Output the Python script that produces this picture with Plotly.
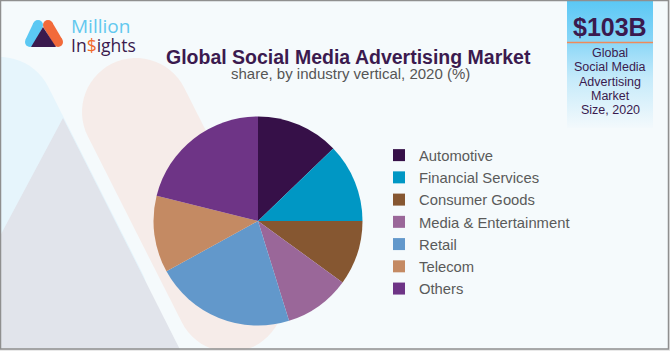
import math
import plotly.graph_objects as go

# ---- data ----
categories = ["Automotive", "Financial Services", "Consumer Goods",
              "Media & Entertainment", "Retail", "Telecom", "Others"]
shares = [12.8, 12.2, 10.0, 10.2, 21.8, 11.9, 21.1]
colors = ["#361048", "#0097c4", "#865731", "#9a6799", "#6298cb", "#c48a63", "#6e3486"]

title_text = "Global Social Media Advertising Market"
subtitle_text = "share, by industry vertical, 2020 (%)"
market_size = "$103B"
box_lines = ["Global", "Social Media", "Advertising", "Market", "Size, 2020"]

W, H = 670, 351
FONT = "Liberation Sans, Arial, sans-serif"


def pill_path(c1, c2, r, n=30):
    dx, dy = c2[0] - c1[0], c2[1] - c1[1]
    L = math.hypot(dx, dy)
    dx, dy = dx / L, dy / L
    nx, ny = dy, -dx
    a0 = math.atan2(ny, nx)
    pts = []
    for i in range(n + 1):
        a = a0 - math.pi * i / n
        pts.append((c1[0] + r * math.cos(a), c1[1] + r * math.sin(a)))
    for i in range(n + 1):
        a = a0 - math.pi - math.pi * i / n
        pts.append((c2[0] + r * math.cos(a), c2[1] + r * math.sin(a)))
    return "M " + " L ".join(f"{x:.2f},{y:.2f}" for x, y in pts) + " Z"


fig = go.Figure()

# gradient box on the right
fig.add_trace(go.Scatter(
    x=[567, 653, 653, 567, 567], y=[1, 1, 128, 128, 1],
    fill="toself", mode="lines", line=dict(width=0), hoverinfo="skip",
    showlegend=False,
    fillgradient=dict(type="vertical", start=1, stop=128,
                      colorscale=[[0, "#5bc8f5"], [0.3, "#86d5f7"], [0.6, "#c4eafa"],
                                  [1, "#f3f9fc"]]),
))

# pie
fig.add_trace(go.Pie(
    labels=categories, values=shares, sort=False, direction="clockwise",
    rotation=0, textinfo="none", hoverinfo="label+percent",
    marker=dict(colors=colors, line=dict(width=0)),
    domain=dict(x=[153.5 / W, 362.5 / W], y=[25.5 / H, 234.5 / H]),
))

shapes = []
# background decorations
shapes.append(dict(type="path", path=pill_path((0, 111), (94, 297), 54),
                   fillcolor="#e6f5fc", line=dict(width=0), layer="below"))
shapes.append(dict(type="path",
                   path=f"M 63,118 L {63 + 0.505 * (351 - 118):.1f},351 L 0,351 L 0,236 Z",
                   fillcolor="#e1e4eb", line=dict(width=0), layer="below"))
shapes.append(dict(type="path", path=pill_path((136, 112), (230, 298), 54),
                   fillcolor="#f6ece9", line=dict(width=0), layer="below"))

# logo
shapes.append(dict(type="line", x0=38, y0=25, x1=30, y1=42, line=dict(color="#5bc8f3", width=10), layer="below"))
shapes.append(dict(type="circle", x0=33, y0=20, x1=43, y1=30, fillcolor="#5bc8f3", line=dict(width=0), layer="below"))
shapes.append(dict(type="circle", x0=25, y0=37, x1=35, y1=47, fillcolor="#5bc8f3", line=dict(width=0), layer="below"))
shapes.append(dict(type="line", x0=48, y0=25, x1=58, y1=42, line=dict(color="#f26a3a", width=10), layer="below"))
shapes.append(dict(type="circle", x0=43, y0=20, x1=53, y1=30, fillcolor="#f26a3a", line=dict(width=0), layer="below"))
shapes.append(dict(type="circle", x0=53, y0=37, x1=63, y1=47, fillcolor="#f26a3a", line=dict(width=0), layer="below"))
shapes.append(dict(type="path", path="M 43,27 L 56,47 L 31,47 Z", fillcolor="#3a1a4e",
                   line=dict(width=0), layer="below"))

# orange separator in box
shapes.append(dict(type="line", x0=567, y0=42.5, x1=653, y1=42.5,
                   line=dict(color="#f08a5a", width=1.5)))
# bottom strip and border
shapes.append(dict(type="rect", x0=0, y0=349.5, x1=670, y1=351, fillcolor="#e9e9e9",
                   line=dict(width=0)))
shapes.append(dict(type="rect", x0=669, y0=0, x1=670, y1=351, fillcolor="#e9e9e9",
                   line=dict(width=0)))
shapes.append(dict(type="rect", x0=0.5, y0=0.5, x1=668.5, y1=349, fillcolor="rgba(0,0,0,0)",
                   line=dict(color="#8f8f8f", width=1.5)))

ann = []
ann.append(dict(x=69, y=26, text="Million", showarrow=False, xanchor="left", yanchor="middle",
                font=dict(family="Open Sans", size=19, color="#62c8ef")))
ann.append(dict(x=69, y=45, text="In<span style='color:#f26b2a'>$</span>ights", showarrow=False,
                xanchor="left", yanchor="middle",
                font=dict(family="Open Sans", size=17.5, color="#3a1a4e")))
ann.append(dict(x=348.5, y=57, text=f"<b>{title_text}</b>", showarrow=False,
                xanchor="center", yanchor="middle",
                font=dict(family=FONT, size=19.5, color="#3b1a4f")))
ann.append(dict(x=350, y=73.5, text=subtitle_text, showarrow=False,
                xanchor="center", yanchor="middle",
                font=dict(family=FONT, size=15, color="#555555")))
ann.append(dict(x=610, y=27, text=f"<b>{market_size}</b>", showarrow=False,
                xanchor="center", yanchor="middle",
                font=dict(family=FONT, size=25, color="#3a1a4e")))
for i, t in enumerate(box_lines):
    ann.append(dict(x=610, y=53 + i * 14.3, text=t, showarrow=False,
                    xanchor="center", yanchor="middle",
                    font=dict(family=FONT, size=12.5, color="#3a1a4e")))

fig.update_layout(
    width=W, height=H, margin=dict(l=0, r=0, t=0, b=0),
    paper_bgcolor="#f5fafc", plot_bgcolor="rgba(0,0,0,0)",
    xaxis=dict(range=[0, W], visible=False, fixedrange=True, domain=[0, 1]),
    yaxis=dict(range=[H, 0], visible=False, fixedrange=True, domain=[0, 1]),
    shapes=shapes, annotations=ann,
    showlegend=True,
    legend=dict(x=379 / W, y=1 - 139 / H, xanchor="left", yanchor="top",
                bgcolor="rgba(0,0,0,0)",
                font=dict(family=FONT, size=14.8, color="#5a5a5a")),
)

fig.write_html("out.html")
